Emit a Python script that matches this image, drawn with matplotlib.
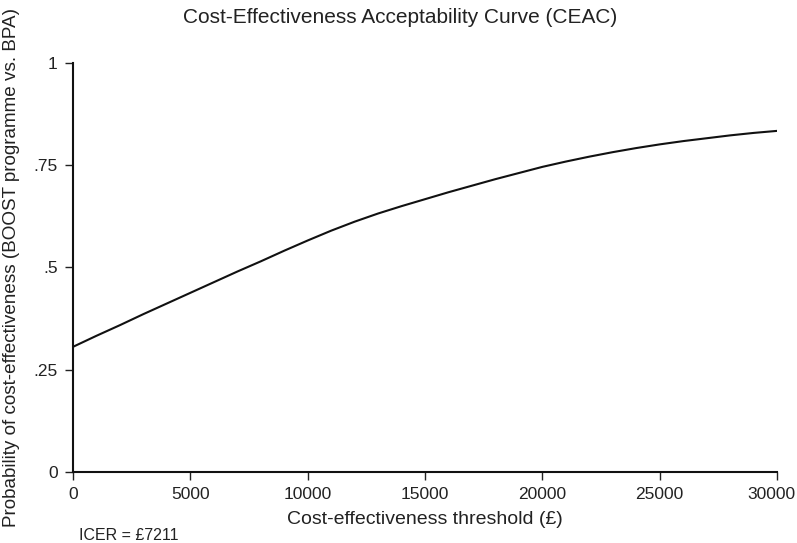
import numpy as np
import matplotlib.pyplot as plt
from matplotlib.transforms import ScaledTranslation

plt.rcParams['font.family'] = ['Liberation Sans', 'DejaVu Sans']

threshold = list(range(0, 31000, 1000))
prob_ce = [0.306, 0.333, 0.359, 0.386, 0.412, 0.438, 0.464, 0.490, 0.515, 0.541,
           0.566, 0.590, 0.612, 0.632, 0.650, 0.667, 0.684, 0.700, 0.716, 0.731,
           0.746, 0.759, 0.771, 0.782, 0.792, 0.801, 0.809, 0.816, 0.823, 0.829,
           0.834]

x_ticks = [0, 5000, 10000, 15000, 20000, 25000, 30000]
y_ticks = [0, 0.25, 0.5, 0.75, 1]
y_labels = ["0", ".25", ".5", ".75", "1"]

txt = "#222222"

fig = plt.figure(figsize=(7.97, 5.43), dpi=100)
ax = fig.add_axes([0.0916, 0.1308, 0.8834, 0.7532])

ax.plot(threshold, prob_ce, color="#111111", lw=1.5)

ax.set_xlim(0, 30000)
ax.set_ylim(0, 1)
ax.set_xticks(x_ticks)
ax.set_yticks(y_ticks)
ax.set_yticklabels(y_labels)
ax.tick_params(direction="out", length=6, width=1, colors=txt,
               labelsize=12.5, pad=5)

# last x label sits on the right edge; nudge it in a little
last = ax.get_xticklabels()[-1]
last.set_transform(last.get_transform() + ScaledTranslation(-4 / 72, 0, fig.dpi_scale_trans))

for s in ["top", "right"]:
    ax.spines[s].set_visible(False)
for s in ["left", "bottom"]:
    ax.spines[s].set_linewidth(1.5)
    ax.spines[s].set_color("#111111")

ax.set_xlabel("Cost-effectiveness threshold (£)", fontsize=14, color=txt, labelpad=6)
ax.set_ylabel("Probability of cost-effectiveness (BOOST programme vs. BPA)",
              fontsize=13.6, color=txt, labelpad=10)
fig.suptitle("Cost-Effectiveness Acceptability Curve (CEAC)", fontsize=15,
             color=txt, x=0.502, y=0.985)
fig.text(0.099, 0.0147, "ICER = £7211", fontsize=11.5, color=txt, ha="left", va="center")

fig.savefig("out.png", dpi=100)
